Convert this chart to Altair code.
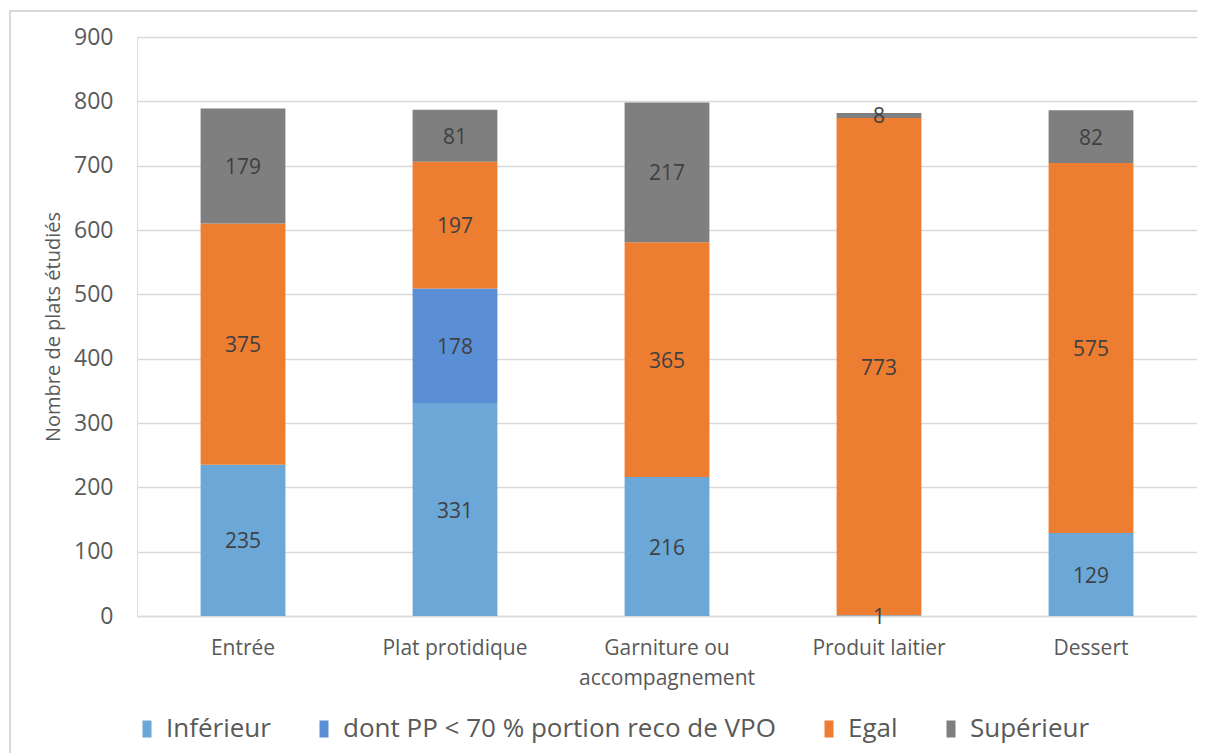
import altair as alt
import pandas as pd

categories = ["Entrée", "Plat protidique", "Garniture ou accompagnement", "Produit laitier", "Dessert"]
series = ["Inférieur", "dont PP < 70 % portion reco de VPO", "Egal", "Supérieur"]
inferieur = [235, 331, 216, 1, 129]
dont_pp = [0, 178, 0, 0, 0]
egal = [375, 197, 365, 773, 575]
superieur = [179, 81, 217, 8, 82]
colors = ["#6BA8D7", "#5B8FD5", "#ED7D31", "#7F7F7F"]
y_ticks = [0, 100, 200, 300, 400, 500, 600, 700, 800, 900]

rows = []
for si, (name, vals) in enumerate(zip(series, [inferieur, dont_pp, egal, superieur])):
    for cat, v in zip(categories, vals):
        if v > 0:
            rows.append({"cat": cat, "serie": name, "value": v, "ord": si})
df = pd.DataFrame(rows)

FONT = "Open Sans"

base = alt.Chart(df).transform_stack(
    stack="value", groupby=["cat"], sort=[{"field": "ord", "order": "ascending"}], as_=["y0", "y1"]
).transform_calculate(mid="(datum.y0 + datum.y1) / 2")

x_enc = alt.X(
    "cat:N",
    sort=categories,
    title=None,
    scale=alt.Scale(paddingInner=0.6, paddingOuter=0.3),
    axis=alt.Axis(
        labelAngle=0,
        labelFontSize=21,
        labelColor="#595959",
        labelFont=FONT,
        labelPadding=21,
        labelLineHeight=30,
        labelBaseline="top",
        ticks=False,
        domainColor="#D9D9D9",
        domainWidth=1.5,
        labelExpr="datum.label == 'Garniture ou accompagnement' ? ['Garniture ou', 'accompagnement'] : datum.label",
    ),
)

bars = base.mark_bar().encode(
    x=x_enc,
    y=alt.Y(
        "y0:Q",
        scale=alt.Scale(domain=[0, 900], nice=False),
        title="Nombre de plats étudiés",
        axis=alt.Axis(
            values=y_ticks,
            labelFontSize=23,
            labelColor="#595959",
            labelFont=FONT,
            labelPadding=24,
            ticks=False,
            domain=False,
            gridColor="#D9D9D9",
            gridWidth=1.5,
            titleFontSize=20,
            titleFont=FONT,
            titleColor="#595959",
            titleFontWeight="normal",
            titlePadding=10,
        ),
    ),
    y2="y1:Q",
    color=alt.Color(
        "serie:N",
        sort=series,
        scale=alt.Scale(domain=series, range=colors),
        legend=alt.Legend(
            title=None,
            orient="none",
            direction="horizontal",
            legendX=-3,
            legendY=679,
            labelFontSize=26,
            labelFont=FONT,
            labelColor="#595959",
            symbolType="M-0.53,-1H0.53V1H-0.53Z",
            symbolSize=289,
            symbolStrokeWidth=0,
            symbolOpacity=1,
            labelOffset=6,
            columnPadding=40,
            labelLimit=700,
            padding=0,
        ),
    ),
)

labels = base.mark_text(fontSize=21, font=FONT, color="#404040", dy=2).encode(
    x=alt.X("cat:N", sort=categories),
    y=alt.Y("mid:Q"),
    text=alt.Text("value:Q"),
)

frame_top = alt.Chart(df).mark_rule(stroke="#D9D9D9", strokeWidth=2).encode(
    x=alt.value(-127), x2=alt.value(1060), y=alt.value(-26)
)
frame_left = alt.Chart(df).mark_rect(color="#D9D9D9").encode(
    x=alt.value(-128), x2=alt.value(-126), y=alt.value(-27), y2=alt.value(716)
)

chart = alt.layer(frame_top, frame_left, bars, labels).properties(
    width=1060,
    height=579,
    autosize=alt.AutoSizeParams(type="none"),
    padding={"left": 129, "top": 29, "right": 0, "bottom": 138},
).configure_view(stroke=None).configure(font=FONT)

chart.save("out.html", embed_options={"renderer": "svg", "actions": False})
